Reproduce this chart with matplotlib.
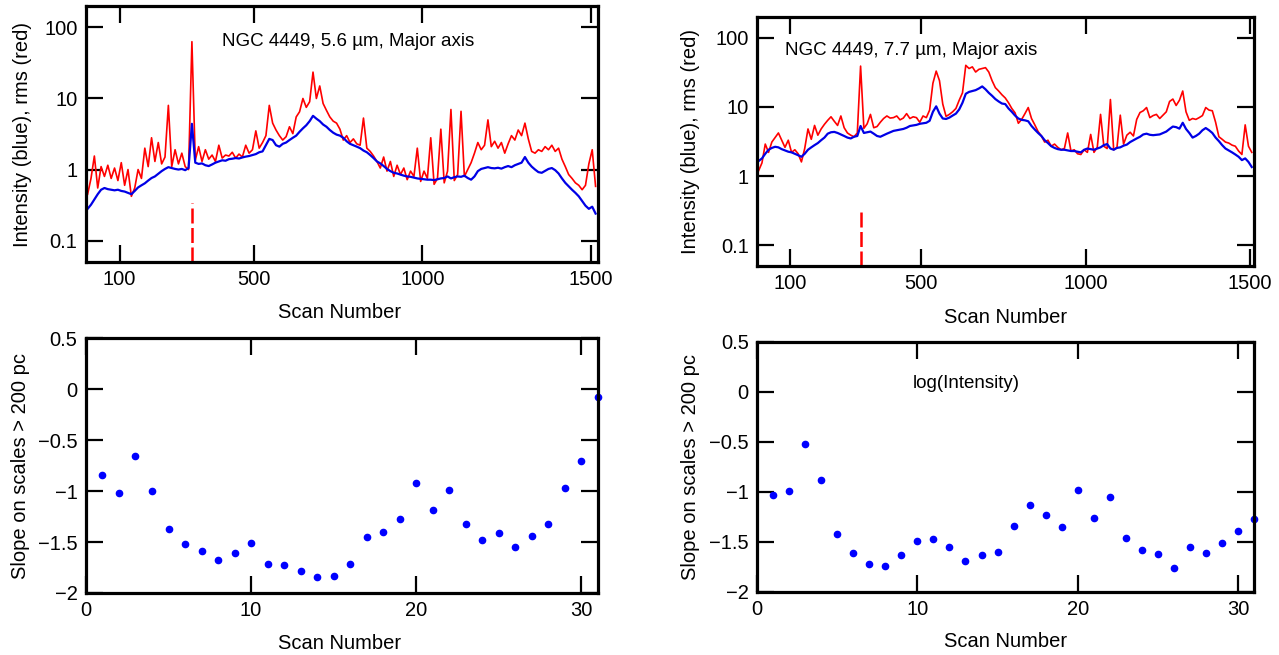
"""NGC 4449 major-axis scans: intensity/rms profiles and slope on large scales."""
import matplotlib.pyplot as plt
import numpy as np
from matplotlib.ticker import NullLocator, FuncFormatter

plt.rcParams['font.family'] = ['Liberation Sans', 'DejaVu Sans']

# scan numbers for the top profiles (every 10th scan)
scans_56 = np.arange(5, 1520, 10)
scans_77 = np.arange(5, 1510, 10)

# 5.6 um: intensity (blue) and rms (red)
int_56 = [
    0.28, 0.32, 0.38, 0.45, 0.52, 0.55, 0.53, 0.52, 0.51, 0.52,
    0.50, 0.49, 0.47, 0.45, 0.50, 0.56, 0.60, 0.64, 0.70, 0.76,
    0.80, 0.87, 0.95, 1.02, 1.08, 1.05, 1.02, 1.00, 1.02, 0.98,
    1.05, 4.4, 1.25, 1.20, 1.22, 1.15, 1.12, 1.18, 1.25, 1.30,
    1.35, 1.33, 1.40, 1.42, 1.45, 1.43, 1.48, 1.52, 1.55, 1.60,
    1.65, 1.75, 1.80, 2.2, 2.7, 2.6, 2.2, 2.1, 2.3, 2.4,
    2.6, 2.8, 3.0, 3.4, 3.8, 4.2, 4.8, 5.7, 5.2, 4.8,
    4.3, 4.0, 3.6, 3.3, 3.1, 3.0, 2.8, 2.5, 2.3, 2.2,
    2.1, 2.0, 1.85, 1.75, 1.6, 1.45, 1.3, 1.22, 1.12, 1.02,
    0.95, 0.90, 0.88, 0.85, 0.82, 0.80, 0.79, 0.77, 0.75, 0.74,
    0.73, 0.72, 0.72, 0.71, 0.73, 0.75, 0.76, 0.80, 0.75, 0.78,
    0.80, 0.79, 0.82, 0.76, 0.72, 0.80, 0.95, 1.02, 1.05, 1.08,
    1.05, 1.04, 1.06, 1.03, 1.08, 1.12, 1.08, 1.15, 1.20, 1.25,
    1.5, 1.25, 1.10, 1.00, 0.92, 0.90, 0.96, 1.02, 1.05, 0.98,
    0.88, 0.75, 0.65, 0.58, 0.52, 0.47, 0.42, 0.36, 0.31, 0.28,
    0.30, 0.24,
]
rms_56 = [
    0.45, 0.75, 1.55, 0.55, 1.10, 0.80, 1.15, 0.75, 1.05, 0.70,
    1.25, 0.60, 1.00, 0.42, 0.55, 1.00, 0.75, 2.0, 1.1, 2.8,
    1.3, 2.4, 1.2, 1.5, 8.0, 1.1, 1.9, 1.2, 1.7, 1.1,
    1.0, 63, 1.35, 2.1, 1.3, 1.9, 1.4, 1.6, 1.3, 2.2,
    1.45, 1.6, 1.55, 1.75, 1.45, 1.65, 1.5, 2.2, 1.7, 1.9,
    3.5, 2.0, 2.4, 3.0, 8.0, 4.5, 3.6, 3.0, 2.6, 2.9,
    4.0, 3.2, 5.5, 6.5, 10.0, 7.5, 9.0, 23.5, 10.0, 15.0,
    8.5, 6.8, 5.5, 4.8, 4.5, 3.7, 2.6, 3.0, 2.4, 2.7,
    2.3, 2.2, 5.3, 2.0, 1.8, 1.55, 1.3, 1.05, 1.5, 0.95,
    1.3, 0.80, 1.15, 0.85, 1.05, 0.72, 0.95, 0.80, 2.0, 0.68,
    0.95, 0.75, 2.8, 0.62, 0.75, 3.7, 0.65, 0.95, 7.0, 0.70,
    0.85, 6.6, 0.80, 1.0, 1.25, 1.7, 2.4, 1.9, 2.2, 5.0,
    2.1, 2.5, 2.0, 2.4, 1.7, 2.3, 3.0, 2.6, 3.6, 3.0,
    4.5, 2.7, 1.8, 1.7, 1.9, 1.8, 2.1, 1.9, 2.2, 1.8,
    2.0, 1.4, 1.1, 0.85, 0.75, 0.65, 0.60, 0.52, 0.60, 1.2,
    1.9, 0.58,
]

# 7.7 um: intensity (blue) and rms (red)
int_77 = [
    1.65, 1.8, 2.1, 2.4, 2.55, 2.65, 2.6, 2.45, 2.35, 2.25,
    2.2, 2.1, 2.0, 1.9, 2.1, 2.4, 2.6, 2.8, 3.0, 3.3,
    3.6, 4.1, 4.3, 4.35, 4.2, 4.0, 3.8, 3.6, 3.5, 3.7,
    3.8, 5.3, 4.2, 4.3, 4.4, 4.1, 3.8, 3.7, 3.9, 4.1,
    4.3, 4.5, 4.6, 4.7, 4.8, 5.0, 5.3, 5.4, 5.5, 5.7,
    5.8, 5.9, 6.3, 8.5, 10.2, 8.0, 6.8, 6.7, 7.0, 7.5,
    8.0, 9.2, 11.5, 15.5, 16.5, 17.0, 17.5, 18.5, 19.8, 18.0,
    16.0, 14.5, 13.0, 12.0, 11.2, 11.0, 9.5, 8.5, 7.5, 6.8,
    6.5, 6.4, 6.2, 5.3, 4.7, 4.2, 3.8, 3.3, 3.0, 2.7,
    2.55, 2.45, 2.4, 2.4, 2.35, 2.3, 2.3, 2.25, 2.2, 2.4,
    2.5, 2.45, 2.4, 2.5, 2.6, 2.8, 2.9, 2.5, 2.4, 2.55,
    2.6, 2.75, 2.85, 3.1, 3.3, 3.5, 3.7, 4.0, 4.1, 3.95,
    3.9, 3.95, 4.0, 4.2, 4.4, 4.8, 5.2, 5.1, 4.85, 5.9,
    4.8, 4.2, 3.6, 3.8, 4.1, 4.6, 4.95, 4.6, 4.2, 3.6,
    3.2, 2.8, 2.5, 2.35, 2.2, 2.05, 1.9, 1.7, 1.8, 1.6,
    1.35,
]
rms_77 = [
    1.2, 1.55, 2.9, 2.2, 3.1, 3.6, 4.2, 3.3, 2.6, 3.3,
    2.2, 2.4, 2.1, 1.6, 2.5, 4.8, 3.4, 5.4, 3.9, 4.8,
    5.6, 6.4, 7.2, 6.2, 5.4, 7.4, 5.0, 4.2, 3.9, 3.7,
    4.2, 39, 4.9, 5.7, 7.8, 5.0, 5.2, 6.0, 6.8, 7.4,
    6.9, 7.0, 7.4, 6.5, 6.9, 8.0, 6.8, 7.2, 7.0, 6.0,
    7.4, 7.0, 9.0, 22, 33, 24, 11, 7.3, 7.8, 8.5,
    9.5, 12.5, 16, 40, 36, 38, 32, 35, 36, 37,
    32, 24, 19, 17, 15, 13.5, 11.5, 9.5, 8.2, 5.8,
    6.6, 8.0, 9.8, 6.8, 5.5, 4.4, 3.8, 3.1, 3.3, 2.7,
    2.9, 2.6, 2.4, 2.5, 4.2, 2.3, 2.4, 2.1, 2.05, 2.4,
    2.2, 4.0, 2.2, 2.6, 7.8, 2.7, 2.5, 12.8, 2.4, 2.6,
    7.6, 2.9, 3.9, 4.3, 3.8, 6.6, 8.3, 8.8, 9.8, 7.0,
    7.5, 7.8, 6.8, 7.6, 8.5, 12.0, 13.0, 10.5, 12.5, 17.0,
    8.5, 6.4, 6.8, 6.6, 7.0, 7.5, 9.8, 9.0, 8.8, 6.0,
    3.7, 3.4, 3.1, 3.0, 2.8, 2.7, 2.3, 2.05, 5.5, 2.7,
    2.2,
]

# scan marked with the dashed line, and how high the mark reaches
mark_scan = 315
mark_top = 0.34

# slope on scales > 200 pc for scans 1..31
slope_scan = list(range(1, 32))
slope_56 = [
    -0.84, -1.02, -0.66, -1.00, -1.37, -1.52, -1.59, -1.68, -1.61, -1.51,
    -1.72, -1.73, -1.78, -1.84, -1.83, -1.72, -1.45, -1.40, -1.27, -0.92,
    -1.19, -0.99, -1.32, -1.48, -1.41, -1.55, -1.44, -1.32, -0.97, -0.71,
    -0.08,
]
slope_77 = [
    -1.03, -0.99, -0.52, -0.88, -1.42, -1.61, -1.72, -1.74, -1.63, -1.49,
    -1.47, -1.55, -1.69, -1.63, -1.60, -1.34, -1.13, -1.23, -1.35, -0.98,
    -1.26, -1.05, -1.46, -1.58, -1.62, -1.76, -1.55, -1.61, -1.51, -1.39,
    -1.27,
]

RED = '#ff0000'
BLUE = '#0000e6'
FS = 14.5


def style_axes(ax):
    for s in ax.spines.values():
        s.set_linewidth(2.3)
    ax.tick_params(which='both', direction='in', top=True, right=True,
                   length=12, width=1.6, labelsize=FS, pad=6)


def profile(ax, scans, inten, rms, xmax, title, tx, ty, ha):
    ax.plot(scans, rms, color=RED, lw=1.2)
    ax.plot(scans, inten, color=BLUE, lw=1.6)
    ax.plot([mark_scan, mark_scan], [0.05, mark_top], color=RED, lw=1.8,
            ls=(0, (6, 1.8)))
    ax.set_yscale('log')
    ax.set_ylim(0.05, 200)
    ax.set_xlim(0, xmax)
    ax.set_yticks([0.1, 1, 10, 100])
    ax.set_yticklabels(['0.1', '1', '10', '100'])
    ax.yaxis.set_minor_locator(NullLocator())
    ax.set_xticks([100, 500, 1000, 1500])
    ax.set_xticklabels(['100', '500', '1000', '1500'])
    ax.set_xlabel('Scan Number', fontsize=FS)
    ax.set_ylabel('Intensity (blue), rms (red)', fontsize=FS)
    ax.text(tx, ty, title, transform=ax.transAxes, fontsize=13.5,
            ha=ha, va='center')
    style_axes(ax)


def slopes(ax, values):
    ax.plot(slope_scan, values, 'o', color='#0000ff', ms=4.5, clip_on=False)
    ax.set_xlim(0, 31)
    ax.set_ylim(-2, 0.5)
    ax.set_xticks([0, 10, 20, 30])
    ax.set_yticks([-2, -1.5, -1, -0.5, 0, 0.5])
    ax.yaxis.set_major_formatter(
        FuncFormatter(lambda v, p: ('%g' % v).replace('-', '\u2212')))
    ax.set_xlabel('Scan Number', fontsize=FS)
    ax.set_ylabel('Slope on scales > 200 pc', fontsize=FS)
    style_axes(ax)


fig = plt.figure(figsize=(12.79, 6.55), dpi=100)
ax1 = fig.add_axes([0.0672, 0.600, 0.4003, 0.3908])
ax2 = fig.add_axes([0.5919, 0.594, 0.3886, 0.380])
ax3 = fig.add_axes([0.0672, 0.0947, 0.4003, 0.389])
ax4 = fig.add_axes([0.5919, 0.0962, 0.3886, 0.3817])

profile(ax1, scans_56, int_56, rms_56, 1522,
        'NGC 4449, 5.6 \u00b5m, Major axis', 0.512, 0.863, 'center')
profile(ax2, scans_77, int_77, rms_77, 1512,
        'NGC 4449, 7.7 \u00b5m, Major axis', 0.056, 0.867, 'left')
slopes(ax3, slope_56)
slopes(ax4, slope_77)
ax4.text(0.42, 0.832, 'log(Intensity)', transform=ax4.transAxes,
         fontsize=13.5, ha='center', va='center')

ax1.yaxis.set_label_coords(-0.105, 0.5)
ax3.yaxis.set_label_coords(-0.109, 0.5)
for ax in (ax2, ax4):
    ax.yaxis.set_label_coords(-0.115, 0.5)
ax1.xaxis.set_label_coords(0.496, -0.16)
ax2.xaxis.set_label_coords(0.5, -0.169)
ax3.xaxis.set_label_coords(0.496, -0.16)
ax4.xaxis.set_label_coords(0.5, -0.16)

fig.savefig('out.png', dpi=100)
